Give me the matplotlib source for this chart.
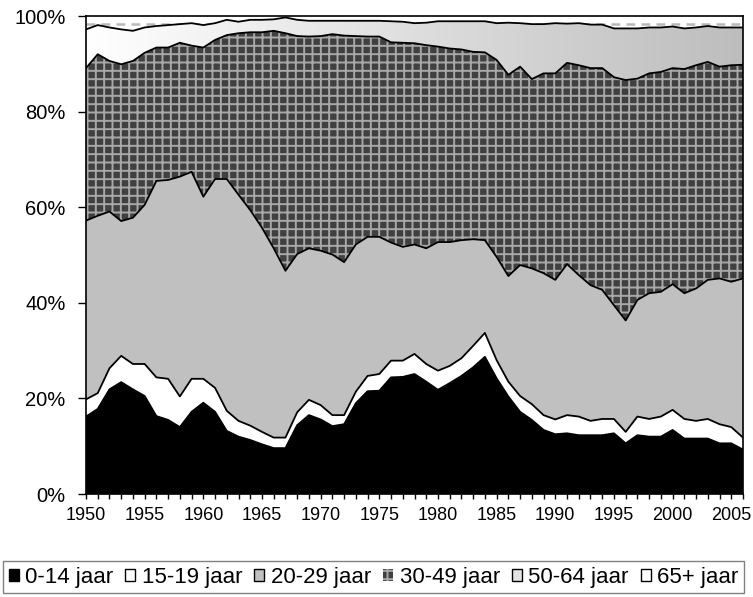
import numpy as np
import matplotlib
matplotlib.use("Agg")
import matplotlib.pyplot as plt
from matplotlib.patches import Patch
from matplotlib.colors import LinearSegmentedColormap

plt.rcParams['font.family'] = ['Liberation Sans', 'DejaVu Sans']
plt.rcParams['hatch.linewidth'] = 1.4
plt.rcParams['hatch.color'] = '#a8a8a8'

years = list(range(1950, 2007))

# share per age group (% of total)
age_0_14 = [16.2, 17.8, 21.9, 23.4, 21.9, 20.5, 16.3, 15.5, 14.0, 17.2,
            19.1, 17.2, 13.2, 12.0, 11.3, 10.4, 9.6, 9.6, 14.4, 16.5,
            15.6, 14.2, 14.6, 19.0, 21.5, 21.6, 24.4, 24.5, 25.1, 23.5,
            21.8, 23.2, 24.7, 26.5, 28.7, 24.2, 20.4, 17.2, 15.5, 13.4,
            12.5, 12.7, 12.3, 12.3, 12.3, 12.7, 10.6, 12.3, 12.0, 12.0,
            13.4, 11.6, 11.6, 11.6, 10.6, 10.6, 9.3]
age_15_19 = [3.6, 3.3, 4.4, 5.5, 5.3, 6.7, 8.1, 8.6, 6.4, 6.9,
             5.0, 5.0, 4.2, 3.3, 3.0, 2.6, 2.2, 2.2, 2.7, 3.2,
             3.0, 2.3, 1.9, 2.4, 3.2, 3.5, 3.5, 3.4, 4.2, 3.7,
             4.0, 3.6, 3.7, 4.5, 5.0, 3.8, 3.1, 3.3, 3.3, 3.1,
             3.1, 3.8, 3.9, 3.0, 3.4, 3.0, 2.4, 3.9, 3.7, 4.2,
             4.2, 4.1, 3.7, 4.1, 4.0, 3.4, 2.5]
age_20_29 = [37.4, 37.1, 32.8, 28.2, 30.6, 33.3, 41.1, 41.6, 46.0, 43.3,
             38.1, 43.7, 48.5, 47.3, 45.1, 42.7, 39.6, 34.9, 33.1, 31.7,
             32.3, 33.6, 32.0, 30.8, 29.1, 28.7, 24.7, 23.8, 22.9, 24.2,
             26.9, 25.9, 24.7, 22.3, 19.4, 21.6, 22.1, 27.4, 28.4, 29.7,
             29.2, 31.6, 29.6, 28.4, 27.0, 23.8, 23.3, 24.4, 26.3, 26.1,
             26.3, 26.3, 27.7, 29.1, 30.5, 30.4, 33.3]
age_30_49 = [31.9, 33.8, 31.5, 32.8, 32.8, 31.8, 27.9, 27.7, 28.0, 26.4,
             31.2, 29.1, 30.1, 33.8, 37.2, 40.9, 45.5, 49.7, 45.6, 44.3,
             44.9, 46.1, 47.4, 43.6, 41.9, 41.9, 41.9, 42.7, 42.1, 42.5,
             40.9, 40.5, 39.9, 39.2, 39.3, 41.2, 42.1, 41.5, 39.6, 41.8,
             43.2, 42.1, 43.9, 45.4, 46.4, 47.7, 50.3, 46.3, 46.0, 46.0,
             45.2, 46.9, 46.7, 45.6, 44.3, 45.3, 44.7]
age_50_64 = [8.1, 6.1, 7.0, 7.3, 6.3, 5.3, 4.5, 4.7, 3.9, 4.7,
             4.7, 3.5, 3.2, 2.4, 2.6, 2.6, 2.4, 3.3, 3.4, 3.3,
             3.2, 2.8, 3.1, 3.2, 3.3, 3.3, 4.4, 4.4, 4.2, 4.7,
             5.3, 5.7, 5.9, 6.4, 6.5, 7.7, 10.9, 9.1, 11.5, 10.3,
             10.5, 8.2, 8.8, 9.1, 9.1, 10.2, 10.8, 10.5, 9.6, 9.3,
             8.7, 8.5, 7.9, 7.5, 8.2, 7.9, 7.8]
age_65 = [2.8, 1.9, 2.4, 2.8, 3.1, 2.4, 2.1, 1.9, 1.7, 1.5,
          1.9, 1.5, 0.8, 1.2, 0.8, 0.8, 0.7, 0.3, 0.8, 1.0,
          1.0, 1.0, 1.0, 1.0, 1.0, 1.0, 1.1, 1.2, 1.5, 1.4,
          1.1, 1.1, 1.1, 1.1, 1.1, 1.5, 1.4, 1.5, 1.7, 1.7,
          1.5, 1.6, 1.5, 1.8, 1.8, 2.6, 2.6, 2.6, 2.4, 2.4,
          2.2, 2.6, 2.4, 2.1, 2.4, 2.4, 2.4]

labels = ["0-14 jaar", "15-19 jaar", "20-29 jaar", "30-49 jaar", "50-64 jaar", "65+ jaar"]
x_labels = [str(y) if y % 5 == 0 else "" for y in years]
y_ticks = [0, 20, 40, 60, 80, 100]
y_labels = ["0%", "20%", "40%", "60%", "80%", "100%"]

data = np.array([age_0_14, age_15_19, age_20_29, age_30_49, age_50_64, age_65])
data = data / data.sum(axis=0) * 100
tops = np.cumsum(data, axis=0)

fig = plt.figure(figsize=(7.53, 5.97), dpi=100)
ax = fig.add_axes([86 / 753, 1 - 494 / 597, 657 / 753, 478 / 597])

polys = ax.stackplot(years, data, colors=["black", "white", "#c0c0c0", "#404040", "none", "white"],
                     linewidth=0)
for p in polys:
    p.set_zorder(2)
polys[5].set_zorder(1)

# 30-49: grid pattern
polys[3].set_edgecolor("#a8a8a8")
polys[3].set_hatch("++")
polys[3].set_linewidth(0)

# 50-64: horizontal gradient white -> grey
grad_cmap = LinearSegmentedColormap.from_list("g", ["#ffffff", "#bdbdbd"])
grad = np.linspace(0, 1, 256).reshape(1, -1)
img = ax.imshow(grad, cmap=grad_cmap, extent=(1950, 2006, 0, 100), aspect="auto",
                origin="lower", zorder=2.1, interpolation="bilinear")
img.set_clip_path(polys[4].get_paths()[0], transform=ax.transData)

# 65+: light dashed pattern
ax.axhline(98.3, color="#b8b8b8", lw=1.8, ls=(0, (3.5, 2.5)), zorder=1.5)

for k in range(5):
    ax.plot(years, tops[k], color="black", lw=1.3, zorder=3)

ax.set_xlim(1950, 2006)
ax.set_ylim(0, 100)
ax.set_xticks(years)
ax.set_xticklabels(x_labels, fontsize=13)
ax.set_yticks(y_ticks)
ax.set_yticklabels(y_labels, fontsize=14.5)
ax.tick_params(axis="x", length=3.6, width=1, pad=6)
ax.tick_params(axis="y", length=5.8, width=1, pad=9)
for s in ax.spines.values():
    s.set_linewidth(1.2)
    s.set_zorder(4)

handles = [
    Patch(facecolor="black", edgecolor="black"),
    Patch(facecolor="white", edgecolor="black"),
    Patch(facecolor="#c0c0c0", edgecolor="black"),
    Patch(facecolor="#404040", edgecolor="#a8a8a8", hatch="++", linewidth=0),
    Patch(facecolor="#e4e4e4", edgecolor="black"),
    Patch(facecolor="white", edgecolor="black"),
]
leg = fig.legend(handles, labels, loc="upper left",
                 bbox_to_anchor=(3 / 753, 0, 741 / 753, 1 - 561 / 597),
                 mode="expand", ncol=6, fontsize=16, handlelength=0.45, handleheight=0.45,
                 handletextpad=0.3, columnspacing=0.4, borderpad=0.25, borderaxespad=0,
                 frameon=True, fancybox=False, edgecolor="#606060")
leg.get_frame().set_linewidth(1.0)

fig.savefig("out.png", dpi=100)
